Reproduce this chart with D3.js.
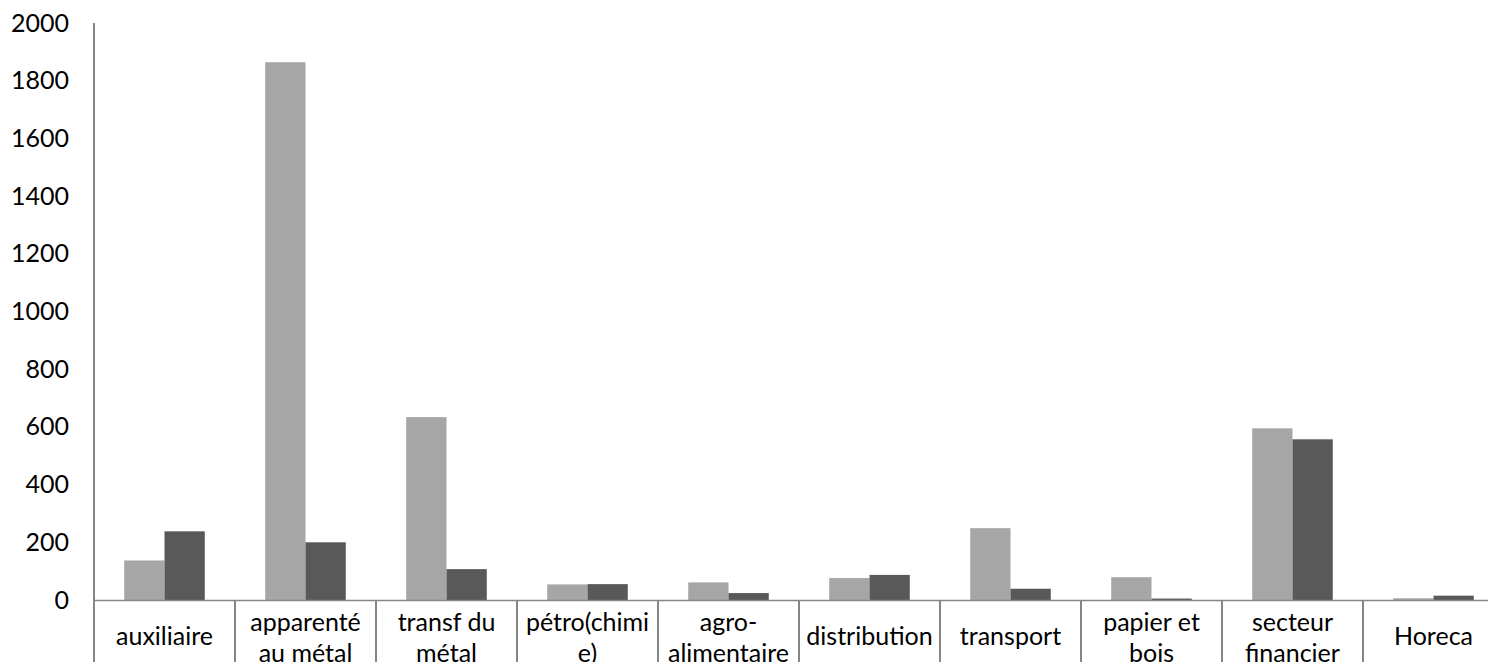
<!DOCTYPE html>
<html>
<head>
<meta charset="utf-8">
<script src="https://cdn.jsdelivr.net/npm/d3@7"></script>
<style>
	body { margin: 0; background: #fff; }
	svg text { font-family: Lato, "Open Sans", sans-serif; fill: #000; }
</style>
</head>
<body>
<svg id="chart" width="1488" height="662"></svg>
<script>
// categories and their wrapped label lines
var categories = ["auxiliaire", "apparenté au métal", "transf du métal", "pétro(chimie)", "agro-alimentaire",
	"distribution", "transport", "papier et bois", "secteur financier", "Horeca"];
var labelLines = [["auxiliaire"], ["apparenté", "au métal"], ["transf du", "métal"], ["pétro(chimi", "e)"],
	["agro-", "alimentaire"], ["distribution"], ["transport"], ["papier et", "bois"], ["secteur", "financier"], ["Horeca"]];

// two series
var series1 = [137, 1864, 634, 54, 61, 76, 249, 79, 595, 6];
var series2 = [238, 200, 107, 55, 24, 87, 39, 5, 557, 15];
var yTicks = [0, 200, 400, 600, 800, 1000, 1200, 1400, 1600, 1800, 2000];

var svg = d3.select("#chart");

var x = d3.scaleBand()
	.domain(categories)
	.range([94, 1504]);

var inner = d3.scaleBand()
	.domain(["s1", "s2"])
	.range([0, x.bandwidth()])
	.paddingOuter(0.75);

var y = d3.scaleLinear()
	.domain([0, 2000])
	.range([600, 23]);

var colors = { s1: "#a6a6a6", s2: "#595959" };

var rows = categories.map(function(c, i)
{
	return { cat: c, lines: labelLines[i], s1: series1[i], s2: series2[i] };
});

// bars
var groups = svg.selectAll("g.cat")
	.data(rows)
	.enter()
	.append("g")
	.attr("class", "cat")
	.attr("transform", function(d)
	{
		return "translate(" + x(d.cat) + ",0)";
	});

groups.selectAll("rect")
	.data(function(d)
	{
		return [{ k: "s1", v: d.s1 }, { k: "s2", v: d.s2 }];
	})
	.enter()
	.append("rect")
	.attr("x", function(d) { return inner(d.k); })
	.attr("width", inner.bandwidth())
	.attr("y", function(d) { return y(d.v); })
	.attr("height", function(d) { return y(0) - y(d.v); })
	.style("fill", function(d) { return colors[d.k]; });

// y axis labels
var yAxis = d3.axisLeft(y)
	.tickValues(yTicks)
	.tickSize(0)
	.tickPadding(25)
	.tickFormat(d3.format("d"));

svg.append("g")
	.attr("transform", "translate(94,0)")
	.call(yAxis)
	.call(function(g)
	{
		g.select(".domain").remove();
		g.selectAll("text")
			.attr("font-size", 25)
			.style("font-family", "Lato, sans-serif")
			.attr("fill", "#000");
	});

// axis lines
var lineColor = "#868686";

svg.append("line")
	.attr("x1", 94).attr("x2", 94)
	.attr("y1", y(2000)).attr("y2", 662)
	.style("stroke", lineColor)
	.attr("stroke-width", 2);

svg.append("line")
	.attr("x1", 94).attr("x2", 1504)
	.attr("y1", y(0) + 0.5).attr("y2", y(0) + 0.5)
	.style("stroke", lineColor)
	.attr("stroke-width", 1.5);

// category separators below the zero line
svg.selectAll("line.sep")
	.data(categories.slice(1))
	.enter()
	.append("line")
	.attr("class", "sep")
	.attr("x1", function(d) { return x(d); })
	.attr("x2", function(d) { return x(d); })
	.attr("y1", y(0))
	.attr("y2", 662)
	.style("stroke", lineColor)
	.attr("stroke-width", 2);

// category labels
var labels = svg.selectAll("text.cat")
	.data(rows)
	.enter()
	.append("text")
	.attr("class", "cat")
	.attr("text-anchor", "middle")
	.attr("font-size", 25)
	.attr("x", function(d)
	{
		return x(d.cat) + x.bandwidth() / 2;
	})
	.attr("y", function(d)
	{
		return d.lines.length === 1 ? 645 : 631;
	});

labels.selectAll("tspan")
	.data(function(d)
	{
		return d.lines;
	})
	.enter()
	.append("tspan")
	.attr("x", function()
	{
		return d3.select(this.parentNode).attr("x");
	})
	.attr("dy", function(d, i)
	{
		return i === 0 ? 0 : 31;
	})
	.text(function(d) { return d; });
</script>
</body>
</html>
